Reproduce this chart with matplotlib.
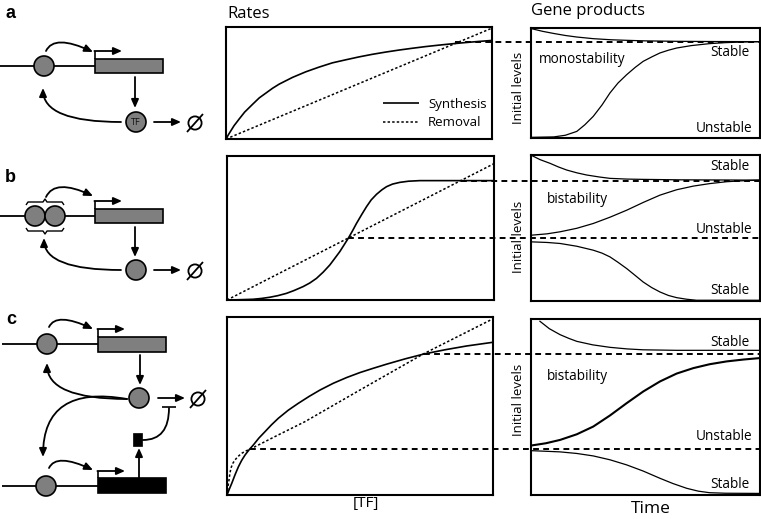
import matplotlib
matplotlib.use('Agg')
import matplotlib.pyplot as plt
from matplotlib.patches import Circle, Rectangle, FancyArrowPatch

plt.rcParams['font.family'] = ['Open Sans', 'DejaVu Sans']

# ---------------- data (normalised 0..1 axes) ----------------
# Rates panel a (monostable)
syn_a_x = [0, 0.01, 0.02, 0.03, 0.05, 0.07, 0.1, 0.125, 0.15, 0.175, 0.2, 0.25, 0.3, 0.35,
           0.4, 0.45, 0.5, 0.55, 0.6, 0.65, 0.7, 0.75, 0.8, 0.85, 0.9, 0.95, 1.0]
syn_a_y = [0, 0.042, 0.08, 0.118, 0.18, 0.24, 0.31, 0.367, 0.41, 0.453, 0.49, 0.55, 0.60,
           0.642, 0.68, 0.707, 0.733, 0.756, 0.776, 0.794, 0.81, 0.825, 0.838, 0.85, 0.861,
           0.871, 0.88]
rem_a_x = [0, 1.0]
rem_a_y = [0, 0.99]
ss_a_x = [0.86]
ss_a_y = [0.862]

# Rates panel b (bistable, cooperative)
syn_b_x = [0, 0.05, 0.0975, 0.13, 0.16, 0.19, 0.2225, 0.25, 0.285, 0.31, 0.335, 0.36, 0.385,
           0.4, 0.4225, 0.454, 0.47, 0.485, 0.505, 0.5225, 0.54, 0.56, 0.58, 0.5975, 0.62,
           0.6475, 0.68, 0.7225, 0.76, 1.0]
syn_b_y = [0, 0.002, 0.005, 0.011, 0.019, 0.03, 0.046, 0.065, 0.093, 0.118, 0.15, 0.193,
           0.243, 0.28, 0.336, 0.428, 0.48, 0.532, 0.595, 0.648, 0.695, 0.734, 0.765, 0.787,
           0.805, 0.817, 0.825, 0.829, 0.829, 0.829]
rem_b_x = [0, 1.0]
rem_b_y = [0, 0.947]
ss_b_x = [0.454, 0.875]
ss_b_y = [0.43, 0.829]

# Rates panel c (bistable, protease)
syn_c_x = [0, 0.009, 0.018, 0.03, 0.043, 0.055, 0.068, 0.083, 0.099, 0.12, 0.143, 0.167,
           0.193, 0.23, 0.268, 0.31, 0.35, 0.4, 0.45, 0.5, 0.55, 0.6, 0.67, 0.74, 0.82,
           0.9, 1.0]
syn_c_y = [0, 0.034, 0.066, 0.113, 0.159, 0.194, 0.225, 0.254, 0.281, 0.32, 0.356, 0.394,
           0.431, 0.476, 0.515, 0.555, 0.59, 0.628, 0.66, 0.688, 0.712, 0.735, 0.765, 0.792,
           0.816, 0.837, 0.858]
rem_c_x = [0, 0.004, 0.0075, 0.011, 0.015, 0.022, 0.03, 0.042, 0.055, 0.07, 0.086, 0.118,
           0.18, 0.293, 0.5, 0.74, 1.0]
rem_c_y = [0, 0.05, 0.084, 0.122, 0.152, 0.178, 0.197, 0.217, 0.234, 0.247, 0.257, 0.281,
           0.328, 0.412, 0.59, 0.794, 0.99]
ss_c_x = [0.086, 0.74]
ss_c_y = [0.257, 0.792]

# Gene-product time courses
ga_t1 = [0.0, 0.05, 0.1, 0.15, 0.2, 0.272, 0.35, 0.418, 0.5, 0.636, 0.8, 1.0]
ga_y1 = [0.995, 0.97, 0.95, 0.932, 0.918, 0.903, 0.893, 0.888, 0.883, 0.879, 0.877, 0.876]
ga_t2 = [0, 0.1, 0.15, 0.2, 0.235, 0.272, 0.31, 0.345, 0.38, 0.418, 0.455, 0.49, 0.53,
         0.563, 0.6, 0.636, 0.7, 0.78, 0.85, 0.927, 1.0]
ga_y2 = [0.006, 0.01, 0.025, 0.06, 0.12, 0.197, 0.3, 0.41, 0.5, 0.576, 0.642, 0.697, 0.74,
         0.773, 0.798, 0.818, 0.84, 0.858, 0.867, 0.873, 0.876]

gb_t1 = [0.005, 0.04, 0.083, 0.12, 0.156, 0.2, 0.243, 0.3, 0.345, 0.42, 0.49, 0.65, 1.0]
gb_y1 = [0.995, 0.968, 0.943, 0.918, 0.897, 0.878, 0.863, 0.849, 0.84, 0.835, 0.833, 0.83,
         0.828]
gb_t2 = [0.003, 0.07, 0.127, 0.2, 0.272, 0.345, 0.418, 0.49, 0.563, 0.636, 0.709, 0.78,
         0.854, 0.93, 1.0]
gb_y2 = [0.451, 0.46, 0.474, 0.498, 0.531, 0.574, 0.622, 0.675, 0.725, 0.762, 0.787, 0.804,
         0.817, 0.824, 0.828]
gb_t3 = [0.003, 0.07, 0.127, 0.2, 0.272, 0.31, 0.345, 0.38, 0.418, 0.455, 0.49, 0.527,
         0.563, 0.6, 0.636, 0.68, 0.723, 1.0]
gb_y3 = [0.405, 0.401, 0.394, 0.375, 0.348, 0.328, 0.302, 0.265, 0.222, 0.175, 0.13, 0.092,
         0.062, 0.038, 0.023, 0.012, 0.005, 0.005]

gc_t1 = [0.039, 0.08, 0.127, 0.165, 0.2, 0.27, 0.345, 0.42, 0.49, 0.636, 1.0]
gc_y1 = [0.987, 0.945, 0.911, 0.89, 0.873, 0.853, 0.839, 0.83, 0.825, 0.822, 0.822]
gc_t2 = [0, 0.065, 0.127, 0.2, 0.272, 0.345, 0.418, 0.49, 0.563, 0.636, 0.709, 0.78,
         0.854, 0.93, 1.0]
gc_y2 = [0.281, 0.294, 0.313, 0.345, 0.389, 0.452, 0.522, 0.588, 0.645, 0.69, 0.721, 0.743,
         0.759, 0.77, 0.778]
gc_t3 = [0, 0.127, 0.2, 0.272, 0.345, 0.418, 0.49, 0.563, 0.62, 0.68, 0.73, 0.78, 0.85, 1.0]
gc_y3 = [0.252, 0.245, 0.236, 0.222, 0.2, 0.171, 0.136, 0.095, 0.065, 0.038, 0.022, 0.013,
         0.01, 0.009]

# ---------------- figure ----------------
W, H = 761, 519
fig = plt.figure(figsize=(W / 100, H / 100), dpi=100)


def add_ax(x0, y0, x1, y1):
    ax = fig.add_axes([x0 / W, 1 - y1 / H, (x1 - x0) / W, (y1 - y0) / H])
    ax.set_xlim(0, 1)
    ax.set_ylim(0, 1)
    ax.set_xticks([])
    ax.set_yticks([])
    for s in ax.spines.values():
        s.set_linewidth(1.5)
    return ax


SOL = dict(color='k', lw=1.2, solid_capstyle='butt', solid_joinstyle='round')
DOT = dict(color='k', lw=1.1, linestyle=(0, (1.6, 1.4)))
DASH = dict(color='k', lw=1.4, linestyle=(0, (3.0, 2.2)))
THIN = dict(color='k', lw=0.9, solid_joinstyle='round')

ra = add_ax(226, 27, 492, 139)
rb = add_ax(227, 156, 494, 300)
rc = add_ax(227, 317, 493, 495)
gA = add_ax(531, 28, 760, 138)
gB = add_ax(531, 155, 760, 301)
gC = add_ax(531, 319, 760, 495)

ra.plot(syn_a_x, syn_a_y, label='Synthesis', **SOL)
ra.plot(rem_a_x, rem_a_y, label='Removal', **DOT)
leg = ra.legend(loc='lower right', frameon=False, fontsize=9.5, handlelength=2.7,
                handletextpad=0.7, labelspacing=0.42, borderaxespad=0.0,
                bbox_to_anchor=(1.0, 0.04))

rb.plot(syn_b_x, syn_b_y, **SOL)
rb.plot(rem_b_x, rem_b_y, **DOT)
rc.plot(syn_c_x, syn_c_y, **SOL)
rc.plot(rem_c_x, rem_c_y, **DOT)

gA.plot(ga_t1, ga_y1, **THIN)
gA.plot(ga_t2, ga_y2, **THIN)
gB.plot(gb_t1, gb_y1, **THIN)
gB.plot(gb_t2, gb_y2, **THIN)
gB.plot(gb_t3, gb_y3, **THIN)
gC.plot(gc_t1, gc_y1, **THIN)
gC.plot(gc_t2, gc_y2, color='k', lw=1.5, solid_joinstyle='round')
gC.plot(gc_t3, gc_y3, **THIN)

txt = dict(fontsize=9.8, va='center')
gA.text(0.035, 0.71, 'monostability', transform=gA.transAxes, ha='left', **txt)
gA.text(0.956, 0.775, 'Stable', transform=gA.transAxes, ha='right', **txt)
gA.text(0.965, 0.09, 'Unstable', transform=gA.transAxes, ha='right', **txt)
gB.text(0.068, 0.692, 'bistability', transform=gB.transAxes, ha='left', **txt)
gB.text(0.956, 0.918, 'Stable', transform=gB.transAxes, ha='right', **txt)
gB.text(0.965, 0.493, 'Unstable', transform=gB.transAxes, ha='right', **txt)
gB.text(0.956, 0.075, 'Stable', transform=gB.transAxes, ha='right', **txt)
gC.text(0.068, 0.676, 'bistability', transform=gC.transAxes, ha='left', **txt)
gC.text(0.956, 0.864, 'Stable', transform=gC.transAxes, ha='right', **txt)
gC.text(0.965, 0.33, 'Unstable', transform=gC.transAxes, ha='right', **txt)
gC.text(0.956, 0.057, 'Stable', transform=gC.transAxes, ha='right', **txt)

# ---------------- overlay (pixel coordinates) ----------------
ov = fig.add_axes([0, 0, 1, 1])
ov.set_xlim(0, W)
ov.set_ylim(H, 0)
ov.axis('off')
ov.patch.set_alpha(0)

to_px = ov.transData.inverted()
for ax, xs, ys, gax in [(ra, ss_a_x, ss_a_y, gA), (rb, ss_b_x, ss_b_y, gB),
                         (rc, ss_c_x, ss_c_y, gC)]:
    xr = to_px.transform(gax.transAxes.transform((1, 0)))[0]
    for x, y in zip(xs, ys):
        px, py = to_px.transform(ax.transData.transform((x, y)))
        ov.plot([px, xr], [py, py], **DASH)

ov.text(227, 18, 'Rates', fontsize=12, ha='left', va='baseline')
ov.text(531, 15, 'Gene products', fontsize=12, ha='left', va='baseline')
ov.text(366, 503, '[TF]', fontsize=11, ha='center', va='center')
ov.text(651, 509, 'Time', fontsize=12.5, ha='center', va='center')
for yc in (88, 237, 400):
    ov.text(518, yc, 'Initial levels', fontsize=9.5, rotation=90, ha='center', va='center')

for lab, xl, yl in [('a', 6, 14), ('b', 5, 178), ('c', 6, 320)]:
    ov.text(xl, yl, lab, fontsize=13, fontweight='bold', family='Liberation Sans',
            ha='left', va='center')

GRAY = '#7f7f7f'


def circ(x, y, r=10, z=3):
    ov.add_patch(Circle((x, y), r, fc=GRAY, ec='k', lw=1.2, zorder=z))


def box(x0, y0, x1, y1, fc):
    ov.add_patch(Rectangle((x0, y0), x1 - x0, y1 - y0, fc=fc, ec='k', lw=1.2, zorder=3))


def arrow(p0, p1, cs='arc3,rad=0', head=True):
    st = '-|>,head_length=0.5,head_width=0.22' if head else '-'
    ov.add_patch(FancyArrowPatch(p0, p1, arrowstyle=st, connectionstyle=cs,
                                 mutation_scale=10, lw=1.3, color='k',
                                 shrinkA=0, shrinkB=0, zorder=4))


def line(xs, ys, lw=1.3):
    ov.plot(xs, ys, color='k', lw=lw, solid_capstyle='butt', zorder=2)


def promoter(xb, ytop, yarr, xend):
    line([xb, xb], [ytop, yarr], lw=1.2)
    arrow((xb - 0.6, yarr), (xend, yarr))


def null(x, y):
    ov.add_patch(Circle((x, y), 6.6, fc='none', ec='k', lw=1.3, zorder=4))
    line([x - 8, x + 8], [y + 9, y - 9], lw=1.3)


# --- a ---
line([0, 95], [66, 66])
circ(44, 66)
box(95, 59, 163, 73, GRAY)
promoter(95, 59, 51, 122)
arrow((46, 51), (93, 52), 'angle3,angleA=65,angleB=-25')
arrow((135, 77), (135, 108))
circ(136, 122)
ov.text(136, 122.5, 'TF', fontsize=6.5, ha='center', va='center', color='#111', zorder=5)
arrow((154, 122), (181, 122))
null(195, 123)
arrow((121, 122), (43, 88), 'angle3,angleA=180,angleB=90')

# --- b ---
line([0, 95], [216, 216])
circ(35, 216)
circ(55, 216)
line([26, 28, 43, 45, 47, 62, 64], [205, 202, 202, 199, 202, 202, 205], lw=1.0)
line([26, 28, 43, 45, 47, 62, 64], [228, 231, 231, 234, 231, 231, 228], lw=1.0)
box(95, 209, 163, 223, GRAY)
promoter(95, 209, 201, 122)
arrow((46, 197), (93, 196), 'angle3,angleA=65,angleB=-25')
arrow((135, 227), (135, 257))
circ(136, 270)
arrow((154, 270), (181, 270))
null(195, 271)
arrow((121, 270), (44, 238), 'angle3,angleA=180,angleB=90')

# --- c ---
line([2, 98], [344, 344])
circ(47, 344)
box(98, 337, 166, 352, GRAY)
promoter(98, 337, 329, 125)
arrow((49, 327), (93, 329), 'angle3,angleA=65,angleB=-25')
arrow((140, 355), (140, 385))
circ(139, 398)
arrow((158, 398), (185, 398))
null(198, 399)
line([162, 176], [407, 407], lw=1.2)
arrow((143, 440), (169, 408), 'angle3,angleA=0,angleB=90', head=False)
ov.add_patch(Rectangle((133, 433), 9, 13, fc='k', ec='k', lw=0.5, zorder=3))
arrow((139, 478), (139, 448))
arrow((127, 399), (47, 363), 'angle3,angleA=180,angleB=90')
arrow((127, 399), (43, 457), 'angle3,angleA=170,angleB=90')
line([2, 98], [486, 486])
circ(46, 486)
box(98, 478, 166, 493, 'k')
promoter(98, 478, 471, 125)
arrow((49, 468), (93, 470), 'angle3,angleA=65,angleB=-25')

fig.savefig('out.png', dpi=100)
